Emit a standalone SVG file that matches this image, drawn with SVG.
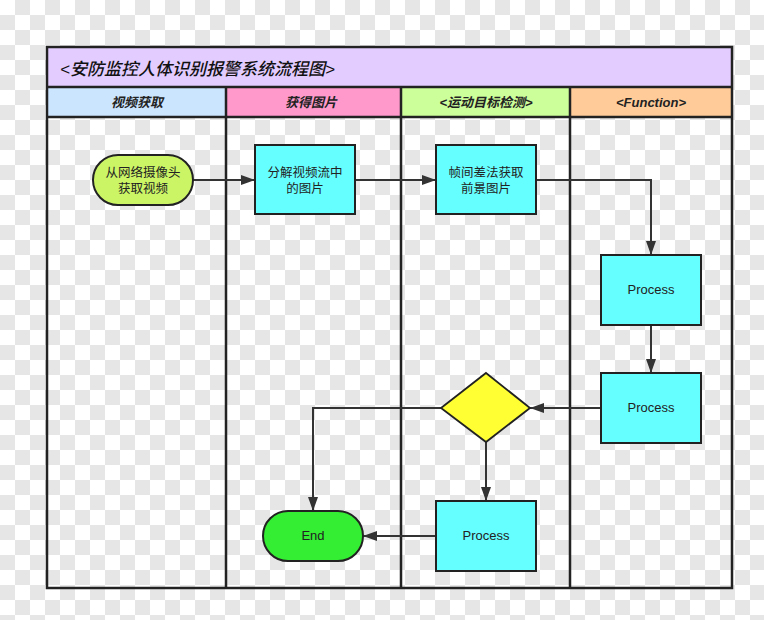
<svg xmlns="http://www.w3.org/2000/svg" width="764" height="620" viewBox="0 0 764 620">
<defs>
<pattern id="cb" width="30" height="30" patternUnits="userSpaceOnUse">
<rect width="30" height="30" fill="#ffffff"/>
<rect x="15" y="0" width="15" height="15" fill="#e6e6e6"/>
<rect x="0" y="15" width="15" height="15" fill="#e6e6e6"/>
</pattern>
<marker id="arr" markerUnits="userSpaceOnUse" markerWidth="14" markerHeight="10" refX="14" refY="5" orient="auto">
<path d="M0,0 L14,5 L0,10 z" fill="#333333"/>
</marker>
</defs>
<style>
.frame{fill:none;stroke:#222222;stroke-width:2.5}
.lane{stroke:#222222;stroke-width:2.5}
.hdr{font-family:"Liberation Sans","Noto Sans CJK SC",sans-serif;font-size:13px;font-style:italic;font-weight:bold;fill:#222222;text-anchor:middle}
.ttl{font-family:"Liberation Sans","Noto Sans CJK SC",sans-serif;font-size:17px;font-style:italic;font-weight:500;fill:#111111}
.box{fill:#66ffff;stroke:#222222;stroke-width:2}
.lbl{font-family:"Liberation Sans","Noto Sans CJK SC",sans-serif;font-size:12.5px;fill:#222222;text-anchor:middle}
.plbl{font-family:"Liberation Sans","Noto Sans CJK SC",sans-serif;font-size:13px;fill:#222222;text-anchor:middle}
.con{fill:none;stroke:#333333;stroke-width:2;marker-end:url(#arr)}
</style>
<rect width="764" height="620" fill="url(#cb)"/>
<g id="pool">
<rect x="47" y="47" width="685" height="40" fill="#e3ccff"/>
<rect x="47" y="87" width="179" height="30" fill="#cce5ff"/>
<rect x="226" y="87" width="175" height="30" fill="#ff99cc"/>
<rect x="401" y="87" width="169" height="30" fill="#ccff99"/>
<rect x="570" y="87" width="162" height="30" fill="#ffcc99"/>
<rect class="frame" x="47" y="47" width="685" height="541"/>
<line class="lane" x1="47" y1="87" x2="732" y2="87"/>
<line class="lane" x1="47" y1="117" x2="732" y2="117"/>
<line class="lane" x1="226" y1="87" x2="226" y2="588"/>
<line class="lane" x1="401" y1="87" x2="401" y2="588"/>
<line class="lane" x1="570" y1="87" x2="570" y2="588"/>
<text class="ttl" x="60" y="75">&lt;安防监控人体识别报警系统流程图&gt;</text>
<text class="hdr" x="137" y="107">视频获取</text>
<text class="hdr" x="311" y="107">获得图片</text>
<text class="hdr" x="486" y="107">&lt;运动目标检测&gt;</text>
<text class="hdr" x="651" y="107">&lt;Function&gt;</text>
</g>
<g id="connectors">
<path class="con" d="M193,180 L255,180"/>
<path class="con" d="M355,180 L436,180"/>
<path class="con" d="M536,180 L651,180 L651,255"/>
<path class="con" d="M651,325 L651,373"/>
<path class="con" d="M601,408 L530,408"/>
<path class="con" d="M441,408 L313,408 L313,511"/>
<path class="con" d="M486,442 L486,501"/>
<path class="con" d="M436,536 L363,536"/>
</g>
<g id="start">
<rect x="93" y="155" width="100" height="50" rx="25" ry="25" fill="#ccf566" stroke="#222222" stroke-width="2"/>
<text class="lbl" x="143" y="177">从网络摄像头</text>
<text class="lbl" x="143" y="193">获取视频</text>
</g>
<g id="split">
<rect class="box" x="255" y="145" width="100" height="69"/>
<text class="lbl" x="305" y="177">分解视频流中</text>
<text class="lbl" x="305" y="193">的图片</text>
</g>
<g id="diff">
<rect class="box" x="436" y="145" width="100" height="69"/>
<text class="lbl" x="486" y="177">帧间差法获取</text>
<text class="lbl" x="486" y="193">前景图片</text>
</g>
<g id="process1">
<rect class="box" x="601" y="255" width="100" height="70"/>
<text class="plbl" x="651" y="294">Process</text>
</g>
<g id="process2">
<rect class="box" x="601" y="373" width="100" height="70"/>
<text class="plbl" x="651" y="412">Process</text>
</g>
<g id="decision">
<polygon points="486,373 530,408 486,442 441,408" fill="#ffff33" stroke="#222222" stroke-width="1.8"/>
</g>
<g id="process3">
<rect class="box" x="436" y="501" width="100" height="70"/>
<text class="plbl" x="486" y="540">Process</text>
</g>
<g id="end">
<rect x="263" y="511" width="100" height="50" rx="25" ry="25" fill="#33ee33" stroke="#222222" stroke-width="2"/>
<text class="plbl" x="313" y="540">End</text>
</g>
</svg>
